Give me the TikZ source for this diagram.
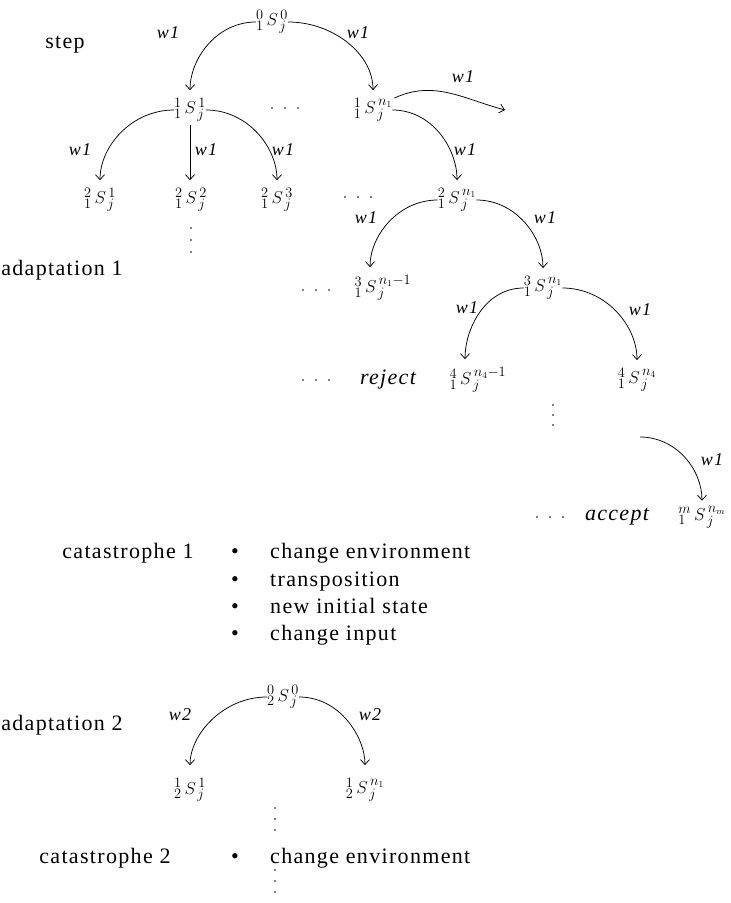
\documentclass[tikz,border=0pt]{standalone}
\usepackage{fontspec}
\setmainfont{Liberation Serif}[LetterSpace=6.0]
\usetikzlibrary{arrows.meta}
\begin{document}
\begin{tikzpicture}[x=1pt,y=1pt,
 st/.style={inner sep=0pt,font=\fontsize{19}{19}\selectfont},
 lab/.style={font=\fontsize{18}{18}\selectfont\itshape, inner sep=0pt},
 txt/.style={font=\fontsize{22}{22}\selectfont, inner sep=0pt},
 itx/.style={font=\fontsize{22}{22}\selectfont\itshape, inner sep=0pt},
 arr/.style={-{Straight Barb[length=5pt,width=9pt]}, line width=0.75pt},
 dot/.style={fill=black},
]
\useasboundingbox (0,0) rectangle (731,-903);
% ---- states, step 1 ----
\node[st] (r1) at (272,-22) {${}^{0}_{1}\,S^{\,0}_{\,j}$};
\node[st] (a1) at (190,-110) {${}^{1}_{1}\,S^{\,1}_{\,j}$};
\node[st] (an) at (373,-110) {${}^{1}_{1}\,S^{\,n_1}_{\,j}$};
\node[st] (b1) at (100,-200) {${}^{2}_{1}\,S^{\,1}_{\,j}$};
\node[st] (b2) at (191,-200) {${}^{2}_{1}\,S^{\,2}_{\,j}$};
\node[st] (b3) at (277,-200) {${}^{2}_{1}\,S^{\,3}_{\,j}$};
\node[st] (bn) at (457,-200) {${}^{2}_{1}\,S^{\,n_1}_{\,j}$};
\node[st] (c1) at (383,-288) {${}^{3}_{1}\,S^{\,n_1-1}_{\,j}$};
\node[st] (c2) at (543,-288) {${}^{3}_{1}\,S^{\,n_1}_{\,j}$};
\node[st] (d1) at (478,-380) {${}^{4}_{1}\,S^{\,n_4-1}_{\,j}$};
\node[st] (d2) at (637,-380) {${}^{4}_{1}\,S^{\,n_4}_{\,j}$};
\node[st] (e) at (702,-517) {${}^{m}_{1}\,S^{\,n_m}_{\,j}$};
% ---- labels ----
\node[txt] (tstep) at (65,-45) {step};
\node[txt] (tad1) at (62,-270) {adaptation 1};
\node[itx] (trej) at (388,-380) {reject};
\node[itx] (tacc) at (617,-517) {accept};
% ---- w labels ----
\node[lab] (l1) at (168,-33) {w1};
\node[lab] (l2) at (358,-33) {w1};
\node[lab] (l3) at (463,-77) {w1};
\node[lab] (l4) at (80,-150) {w1};
\node[lab] (l5) at (206,-150) {w1};
\node[lab] (l6) at (283,-150) {w1};
\node[lab] (l7) at (465,-150) {w1};
\node[lab] (l8) at (366,-218) {w1};
\node[lab] (l9) at (545,-218) {w1};
\node[lab] (l10) at (467,-308) {w1};
\node[lab] (l11) at (640,-310) {w1};
\node[lab] (l12) at (712,-460) {w1};
% ---- connectors ----
\draw[arr,shorten >=8pt] (r1.west) to[out=180,in=90] (a1.north);
\draw[arr,shorten >=8pt] (r1.east) to[out=0,in=90] (an.north);
\coordinate (anr) at (505,-110);
\draw[arr] ([xshift=2pt]an.north east) to[out=25,in=165] (anr);
\draw[arr,shorten >=8pt] (a1.west) to[out=180,in=90] (b1.north);
\draw[arr,shorten <=3pt,shorten >=8pt] (a1.south) -- (a1.south |- b2.north);
\draw[arr,shorten >=8pt] (a1.east) to[out=0,in=90] (b3.north);
\draw[arr,shorten >=8pt] (an.east) to[out=0,in=90] (bn.north);
\draw[arr,shorten >=8pt] (bn.west) to[out=180,in=90] ([xshift=-13pt]c1.north);
\draw[arr,shorten >=8pt] (bn.east) to[out=0,in=90] (c2.north);
\draw[arr,shorten >=8pt] (c2.west) to[out=180,in=90] ([xshift=-13pt]d1.north);
\draw[arr,shorten >=8pt] (c2.east) to[out=0,in=90] (d2.north);
\coordinate (es) at (640,-437);
\draw[arr,shorten >=5pt] (es) to[out=0,in=90] (e.north);
% ---- dots ----
\foreach \x/\y in {272/108,285/108,298/108, 345/197,358/197,371/197,
  303/290,316/290,329/290, 303/380,316/380,329/380, 537/517,550/517,563/517}
  \fill[dot] (\x,-\y) circle (0.9pt);
\foreach \y in {228,240,252} \fill[dot] (191,-\y) circle (0.9pt);
\foreach \y in {405,415,425} \fill[dot] (553,-\y) circle (0.9pt);
% ---- catastrophe 1 ----
\node[txt,anchor=base] (tc1) at (128,-558) {catastrophe 1};
\node[txt,anchor=base] (bu1) at (235,-558) {\textbullet};
\node[txt,anchor=base west] (i1) at (270,-558) {change environment};
\node[txt,anchor=base] (bu2) at (235,-586) {\textbullet};
\node[txt,anchor=base west] (i2) at (270,-586) {transposition};
\node[txt,anchor=base] (bu3) at (235,-613) {\textbullet};
\node[txt,anchor=base west] (i3) at (270,-613) {new initial state};
\node[txt,anchor=base] (bu4) at (235,-640) {\textbullet};
\node[txt,anchor=base west] (i4) at (270,-640) {change input};
% ---- adaptation 2 ----
\node[st] (r2) at (283,-697) {${}^{0}_{2}\,S^{\,0}_{\,j}$};
\node[st] (f1) at (190,-790) {${}^{1}_{2}\,S^{\,1}_{\,j}$};
\node[st] (fn) at (365,-790) {${}^{1}_{2}\,S^{\,n_1}_{\,j}$};
\node[lab] (m1) at (180,-715) {w2};
\node[lab] (m2) at (370,-715) {w2};
\node[txt] (tad2) at (62,-725) {adaptation 2};
\draw[arr,shorten >=13pt] (r2.west) to[out=180,in=90] (f1.north);
\draw[arr,shorten >=13pt] (r2.east) to[out=0,in=90] (fn.north);
\foreach \y in {808,819,830} \fill[dot] (275,-\y) circle (0.9pt);
% ---- catastrophe 2 ----
\node[txt,anchor=base] (tc2) at (105,-863) {catastrophe 2};
\node[txt,anchor=base] (bu5) at (235,-863) {\textbullet};
\node[txt,anchor=base west] (i5) at (270,-863) {change environment};
\foreach \y in {870,881,892} \fill[dot] (275,-\y) circle (0.9pt);
\end{tikzpicture}
\end{document}
